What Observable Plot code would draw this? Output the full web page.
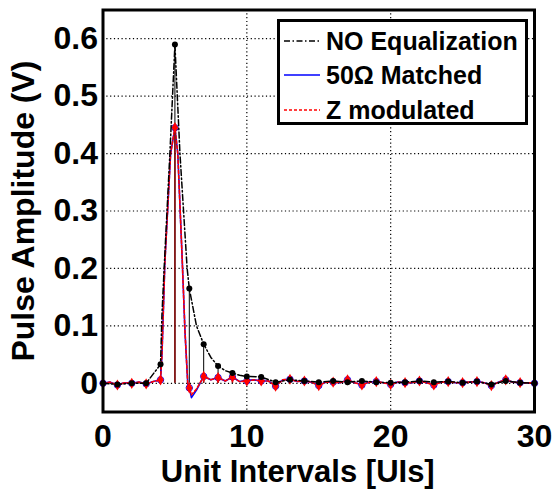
<!DOCTYPE html>
<html>
<head>
<meta charset="utf-8">
<script src="https://cdn.jsdelivr.net/npm/d3@7"></script>
<script src="https://cdn.jsdelivr.net/npm/@observablehq/plot@0.6"></script>
<style>
  html, body { margin: 0; padding: 0; background: #fff; }
  #wrap { position: relative; width: 555px; height: 490px; font-family: Arial, "Liberation Sans", sans-serif; }
  #legend { position: absolute; left: 277px; top: 19px; width: 245px; height: 100px; border: 3px solid #000; background: #fff; box-sizing: content-box; }
  .row { position: absolute; left: 0; height: 30px; display: flex; align-items: center; font-weight: bold; font-size: 25px; color: #000; white-space: nowrap; }
  .row svg { margin-left: 4px; margin-right: 6px; }
</style>
</head>
<body>
<div id="wrap"></div>
<script>
// Series: NO Equalization (black)
const noEqX = [0,1,2,3,4,4.1,4.25,4.65,5,5.35,5.85,6,6.5,7,7.5,8,8.5,9,9.5,10,11,12,13,14,15,16,17,18,19,20,21,22,23,24,25,26,27,28,29,30];
const noEqY = [0,-0.002,0,0,0.033,0.12,0.2,0.4,0.59,0.4,0.2,0.165,0.1,0.068,0.045,0.03,0.022,0.018,0.014,0.012,0.011,0.002,0.006,0.004,0.002,0.004,0.002,0.004,0.002,0.001,0.002,0.004,0.002,0.003,0.001,0.003,-0.002,0.004,0.001,0];
// Sample points (integers) of NO Equalization, used for dots and stems
const sampleX = [0,1,2,3,4,5,6,7,8,9,10,11,12,13,14,15,16,17,18,19,20,21,22,23,24,25,26,27,28,29,30];
const noEqS = [0,-0.002,0,0,0.033,0.59,0.165,0.068,0.03,0.018,0.012,0.011,0.002,0.006,0.004,0.002,0.004,0.002,0.004,0.002,0.001,0.002,0.004,0.002,0.003,0.001,0.003,-0.002,0.004,0.001,0];
// 50 Ohm Matched (blue)
const matchX = [0,0.5,1,1.5,2,2.5,3,3.5,4,4.1,4.3,4.7,5,5.2,5.5,5.7,5.9,6,6.15,6.5,7,7.5,8,8.5,9,9.5,10,10.5,11,11.5,12,12.5,13,13.5,14,14.5,15,15.5,16,16.5,17,17.5,18,18.5,19,19.5,20,20.5,21,21.5,22,22.5,23,23.5,24,24.5,25,25.5,26,26.5,27,27.5,28,28.5,29,29.5,30];
const matchY = [0,0.002,-0.003,0.001,0,0.002,-0.001,0.003,0.006,0.05,0.21,0.4,0.445,0.4,0.22,0.09,-0.004,-0.008,-0.025,-0.012,0.012,0.006,0.01,0.004,0.011,0.003,0.005,0.006,0.004,0.004,-0.004,0.006,0.007,0.003,0.004,0.002,-0.003,0.002,0.002,0.001,0.006,0.001,-0.002,0.002,0.003,0.001,-0.001,0.002,0.001,0.001,0.004,0.001,-0.002,0.002,0.003,0.001,0.001,0.002,0.003,0.001,-0.003,0.002,0.006,0.002,0.001,0.001,0];
// Z modulated (red)
const zmodX = matchX;
const zmodY = [0,0.002,-0.003,0.001,0,0.002,-0.001,0.003,0.006,0.05,0.21,0.4,0.445,0.4,0.22,0.09,-0.004,-0.008,-0.02,-0.01,0.012,0.006,0.01,0.004,0.011,0.003,0.004,0.006,0.004,0.004,-0.005,0.006,0.007,0.003,0.004,0.002,-0.004,0.002,0.002,0.001,0.006,0.001,-0.003,0.002,0.003,0.001,-0.002,0.002,0.001,0.001,0.004,0.001,-0.003,0.002,0.003,0.001,0.001,0.002,0.003,0.001,-0.004,0.002,0.006,0.002,0.001,0.001,0];
const zmodS = [0,-0.003,0,-0.001,0.006,0.445,-0.008,0.012,0.01,0.011,0.004,0.004,-0.005,0.007,0.004,-0.004,0.002,0.006,-0.003,0.003,-0.002,0.001,0.004,-0.003,0.003,0.001,0.003,-0.004,0.006,0.001,0];

const xTicks = [0,10,20,30];
const yTicks = [0,0.1,0.2,0.3,0.4,0.5,0.6];
const seriesNames = ["NO Equalization", "50\u03A9 Matched", "Z modulated"];
const xLabel = "Unit Intervals [UIs]";
const yLabel = "Pulse Amplitude (V)";

const noEq = noEqX.map((x,i) => ({x, y: noEqY[i]}));
const noEqPts = sampleX.map((x,i) => ({x, y: noEqS[i]}));
const match = matchX.map((x,i) => ({x, y: matchY[i]}));
const zmod = zmodX.map((x,i) => ({x, y: zmodY[i]}));
const zmodPts = sampleX.map((x,i) => ({x, y: zmodS[i]}));

const font = "Arial, 'Liberation Sans', sans-serif";

const chart = Plot.plot({
  width: 555,
  height: 490,
  marginLeft: 102.5,
  marginRight: 21,
  marginTop: 9.5,
  marginBottom: 78.5,
  style: {fontFamily: font, background: "#fff", color: "#000"},
  x: {domain: [0, 30]},
  y: {domain: [-0.05, 0.65]},
  marks: [
    Plot.ruleX(xTicks.slice(1, -1), {stroke: "#000", strokeWidth: 1.2, strokeDasharray: "1.2,2.6"}),
    Plot.ruleY(yTicks, {stroke: "#000", strokeWidth: 1.2, strokeDasharray: "1.2,2.6"}),
    Plot.ruleX(noEqPts, {x: "x", y1: 0, y2: "y", stroke: "#000", strokeWidth: 1}),
    Plot.line(match, {x: "x", y: "y", stroke: "#0000ff", strokeWidth: 1.6}),
    Plot.dot(zmodPts, {x: "x", y: "y", r: 3.2, stroke: "#0000ff", strokeWidth: 1, fill: "none"}),
    Plot.line(zmod, {x: "x", y: "y", stroke: "#ff0000", strokeWidth: 1.6, strokeDasharray: "3,2"}),
    Plot.ruleX(zmodPts, {x: "x", y1: 0, y2: "y", stroke: "#8a1010", strokeWidth: 1.6}),
    Plot.dot(zmodPts, {x: "x", y: "y", r: 3.4, symbol: "diamond", fill: "#ff0000"}),
    Plot.line(noEq, {x: "x", y: "y", stroke: "#000", strokeWidth: 1.5, strokeDasharray: "6,2.5,1.5,2.5"}),
    Plot.dot(noEqPts, {x: "x", y: "y", r: 3, fill: "#000"}),
    Plot.frame({stroke: "#000", strokeWidth: 3}),
    Plot.axisX({ticks: xTicks, tickSize: 0, tickPadding: 12, label: null, fontSize: 32, fontWeight: "bold", tickFormat: d3.format("d")}),
    Plot.axisY({ticks: yTicks, tickSize: 0, tickPadding: 5, label: null, fontSize: 32, fontWeight: "bold", tickFormat: d => d === 0 ? "0" : d3.format(".1f")(d)}),
    Plot.text([xLabel], {frameAnchor: "bottom", lineAnchor: "middle", textAnchor: "middle", dy: 60, dx: -21, text: d => d, fontSize: 31, fontWeight: "bold", fill: "#000"}),
    Plot.text([yLabel], {frameAnchor: "left", lineAnchor: "middle", textAnchor: "middle", dx: -79, rotate: -90, text: d => d, fontSize: 32, fontWeight: "bold", fill: "#000"})
  ]
});

const wrap = document.getElementById("wrap");
wrap.appendChild(chart);

// Legend
const legend = document.createElement("div");
legend.id = "legend";
const styles = [
  {stroke: "#000", dash: "6,2.5,1.5,2.5"},
  {stroke: "#0000ff", dash: null},
  {stroke: "#ff0000", dash: "3,2"}
];
const rowTops = [4, 38, 73];
seriesNames.forEach((name, i) => {
  const row = document.createElement("div");
  row.className = "row";
  row.style.top = rowTops[i] + "px";
  const s = styles[i];
  row.innerHTML = `<svg width="36" height="6"><line x1="0" y1="3" x2="36" y2="3" stroke="${s.stroke}" stroke-width="1.5" ${s.dash ? `stroke-dasharray="${s.dash}"` : ""}/></svg><span></span>`;
  row.querySelector("span").textContent = name;
  legend.appendChild(row);
});
wrap.appendChild(legend);
</script>
</body>
</html>
